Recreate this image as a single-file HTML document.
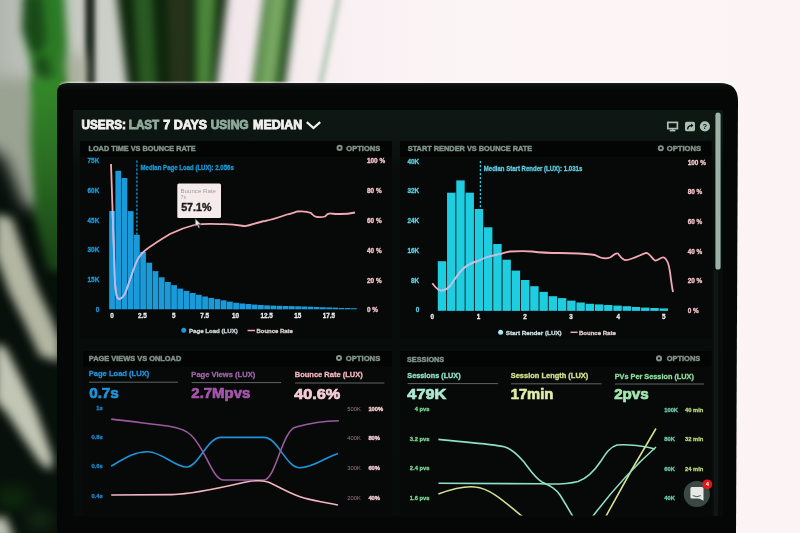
<!DOCTYPE html>
<html><head><meta charset="utf-8"><title>Dashboard</title>
<style>
html,body{margin:0;padding:0;}
body{width:800px;height:533px;overflow:hidden;position:relative;background:#fcf3f5;font-family:'Liberation Sans', Arial, sans-serif;}
</style></head><body>

<svg width="800" height="533" style="position:absolute;left:0;top:0">
<defs>
<linearGradient id="bgg" x1="0" x2="1" y1="0" y2="0">
 <stop offset="0" stop-color="#b2b7af"/><stop offset="0.03" stop-color="#bcc1b9"/><stop offset="0.12" stop-color="#c9cdc5"/>
 <stop offset="0.2" stop-color="#d4d7d0"/><stop offset="0.26" stop-color="#ece4e7"/><stop offset="0.3" stop-color="#f3e8eb"/><stop offset="0.45" stop-color="#f9f1f3"/><stop offset="0.6" stop-color="#fcf5f6"/><stop offset="1" stop-color="#fcf3f5"/>
</linearGradient>
<linearGradient id="lg1" x1="0" x2="0" y1="0" y2="1">
 <stop offset="0" stop-color="#348a2a"/><stop offset="0.45" stop-color="#2a6c22"/><stop offset="1" stop-color="#173f15"/>
</linearGradient>
<filter id="b4" x="-50%" y="-50%" width="200%" height="200%" color-interpolation-filters="sRGB"><feGaussianBlur stdDeviation="4"/></filter>
<filter id="b6" x="-50%" y="-50%" width="200%" height="200%" color-interpolation-filters="sRGB"><feGaussianBlur stdDeviation="7.5"/></filter>
<filter id="b5" x="-50%" y="-50%" width="200%" height="200%" color-interpolation-filters="sRGB"><feGaussianBlur stdDeviation="5"/></filter>
<filter id="b2" x="-50%" y="-50%" width="200%" height="200%" color-interpolation-filters="sRGB"><feGaussianBlur stdDeviation="2.5"/></filter>
</defs>
<rect width="800" height="533" fill="url(#bgg)"/>
<g filter="url(#b4)">
 <!-- leaf A -->
 <polygon points="25,-10 64,-10 67,40 70,100 34,100 30,60 22,30" fill="#2b7a24"/>
 <polygon points="23,-5 42,-5 46,40 40,55 30,50 22,30" fill="#184a17"/>
 <polygon points="34,58 48,56 52,80 46,95 36,90" fill="#1b4f19"/>
 <!-- leaves B -->
 <polygon points="116,-10 228,-10 216,90 128,90" fill="#0d250b"/>
 <polygon points="133,-10 152,-10 157,90 139,90" fill="#2a5a23"/>
 <polygon points="167,-10 190,-10 190,90 170,90" fill="#26331a"/>
 <polygon points="196,-10 217,-10 211,90 196,90" fill="#4a863a"/>
 <!-- leaf C -->
 <polygon points="265,-10 298,-10 284,90 252,90" fill="#2a6223"/>
 <polygon points="269,-10 289,-10 276,90 257,90" fill="#76a660"/>
 <polygon points="289,-10 298,-10 284,90 276,90" fill="#163f16"/>
</g>
<g filter="url(#b2)">
 <polygon points="85,-10 95,-10 95,90 85.5,90" fill="#222a22"/>
 <polygon points="337,-10 343,-10 322,90 316,90" fill="#bccfbf"/>

</g>
<g filter="url(#b6)">
 <!-- left lower dark base -->
 <polygon points="-20,140 5,158 25,205 90,215 90,560 -20,560" fill="#07100a"/>
 <!-- light bands -->
 <polygon points="-20,78 34,78 40,130 41,178 35,202 27,198 12,170 0,150 -20,140" fill="#9aa292"/>
 <ellipse cx="12" cy="498" rx="18" ry="10" fill="#0f2c0d"/>
 <polygon points="68,55 84,55 84,95 70,95" fill="#a4a892"/>
 <ellipse cx="40" cy="520" rx="12" ry="8" fill="#1a3218"/>
</g>
<g filter="url(#b4)">
 <polygon points="31,78 62,78 62,90 80,90 80,275 48,270 34,215 30,140" fill="url(#lg1)"/>
</g>
<g filter="url(#b5)">
 <polygon points="-5,214 12,218 26,258 38,290 52,320 60,340 60,362 40,356 24,322 9,292 -5,254" fill="#b2b6a2"/>
 <polygon points="-5,343 6,348 20,376 36,410 45,435 53,458 51,471 40,463 25,441 8,415 -5,400" fill="#c2c6b4"/>
 <polygon points="-20,519 6,517 15,540 -20,540" fill="#bcc0b0"/>
</g>
</svg>


<svg width="800" height="533" style="position:absolute;left:0;top:0">
<defs><linearGradient id="bz" x1="0" x2="0" y1="83" y2="90" gradientUnits="userSpaceOnUse"><stop offset="0" stop-color="#1e2222"/><stop offset="0.3" stop-color="#0b0f0e"/><stop offset="1" stop-color="#050706"/></linearGradient>
<filter id="glow" x="-5%" y="-5%" width="110%" height="110%" color-interpolation-filters="sRGB"><feGaussianBlur stdDeviation="1"/></filter></defs>
<path d="M60,85 Q62,82.2 70,82.2 L720,82.2 Q733,82.2 736,88 L736,90 L60,90 Z" fill="#ffffff" opacity="0.8" filter="url(#glow)"/>
<path d="M57,535 L57,93 Q57,83 67,83 L720,83 Q738,83 738,101 L736,535 Z" fill="url(#bz)"/>
</svg>
<div style="position:absolute;left:73px;top:110px;width:650px;height:406px;background:linear-gradient(to bottom,#0d1714 0px,#0c1512 30px,#080d0c 60px,#070b0a 100%)"></div>

<svg width="800" height="533" style="position:absolute;left:0;top:0;font-family:'Liberation Sans', Arial, sans-serif">
<defs><filter id="soft" x="0" y="0" width="100%" height="100%" color-interpolation-filters="sRGB"><feGaussianBlur stdDeviation="0.35"/></filter></defs>
<g filter="url(#soft)">
<rect x="80" y="141" width="312" height="198" fill="#060908"/>
<rect x="400" y="141" width="311.5" height="198" fill="#060908"/>
<rect x="83" y="351" width="309" height="166" fill="#060908"/>
<rect x="400" y="351" width="311.5" height="166" fill="#060908"/>
<rect x="80" y="141" width="312" height="15.5" fill="#030504"/>
<rect x="400" y="141" width="311.5" height="15.5" fill="#030504"/>
<rect x="83" y="351" width="309" height="15.5" fill="#030504"/>
<rect x="400" y="351" width="311.5" height="15.5" fill="#030504"/>
<text x="81.50" y="129.3" font-size="12.2" fill="#f2f0ee" stroke="#f2f0ee" stroke-width="0.85" font-weight="bold" textLength="44.45" lengthAdjust="spacingAndGlyphs">USERS:</text>
<text x="128.75" y="129.3" font-size="12.2" fill="#8fab9c" stroke="#8fab9c" stroke-width="0.85" font-weight="bold" textLength="30.50" lengthAdjust="spacingAndGlyphs">LAST</text>
<text x="163.25" y="129.3" font-size="12.2" fill="#f2f0ee" stroke="#f2f0ee" stroke-width="0.85" font-weight="bold" textLength="43.90" lengthAdjust="spacingAndGlyphs">7 DAYS</text>
<text x="210.65" y="129.3" font-size="12.2" fill="#8fab9c" stroke="#8fab9c" stroke-width="0.85" font-weight="bold" textLength="38.00" lengthAdjust="spacingAndGlyphs">USING</text>
<text x="253.05" y="129.3" font-size="12.2" fill="#f2f0ee" stroke="#f2f0ee" stroke-width="0.85" font-weight="bold" textLength="49.10" lengthAdjust="spacingAndGlyphs">MEDIAN</text>
<polyline points="306.8,122.2 313.5,128 320.2,122.2" fill="none" stroke="#f2f0ee" stroke-width="2.3"/>
<g fill="none" stroke="#a9c0b4" stroke-width="1.7"><rect x="667.8" y="122.4" width="9.6" height="6.2"/><line x1="672.6" y1="128.5" x2="672.6" y2="130.6"/><line x1="669.8" y1="130.6" x2="675.4" y2="130.6"/></g>
<rect x="685" y="121.8" width="10" height="9.4" rx="1.6" fill="#a9c0b4"/><path d="M687.6,129.4 Q687.8,125.6 691.6,125.6" stroke="#0b1111" stroke-width="1.4" fill="none"/><polygon points="691,123.6 693.4,125.6 691,127.6" fill="#0b1111"/>
<circle cx="704.9" cy="126.4" r="5.1" fill="#a9c0b4"/>
<text x="704.9" y="129.2" font-size="7.6" font-weight="bold" fill="#0b1111" text-anchor="middle">?</text>
<rect x="715.4" y="112.6" width="5.2" height="157" rx="2.6" fill="#9db3a8"/>
<rect x="713.5" y="270" width="4.5" height="246" fill="#0f1615"/>
<text x="88.45" y="150.6" font-size="7.5" fill="#80938a" stroke="#80938a" stroke-width="0.45" font-weight="bold" textLength="107.20" lengthAdjust="spacingAndGlyphs">LOAD TIME VS BOUNCE RATE</text>
<text x="407.75" y="150.8" font-size="7.5" fill="#80938a" stroke="#80938a" stroke-width="0.45" font-weight="bold" textLength="124.50" lengthAdjust="spacingAndGlyphs">START RENDER VS BOUNCE RATE</text>
<text x="88.75" y="360.8" font-size="7.5" fill="#80938a" stroke="#80938a" stroke-width="0.45" font-weight="bold" textLength="92.50" lengthAdjust="spacingAndGlyphs">PAGE VIEWS VS ONLOAD</text>
<text x="406.95" y="361.6" font-size="7.5" fill="#80938a" stroke="#80938a" stroke-width="0.45" font-weight="bold" textLength="37.30" lengthAdjust="spacingAndGlyphs">SESSIONS</text>
<circle cx="339.6" cy="147.9" r="2.1" fill="none" stroke="#80938a" stroke-width="1.9"/>
<text x="346.35" y="150.8" font-size="7.5" fill="#80938a" stroke="#80938a" stroke-width="0.45" font-weight="bold" textLength="33.90" lengthAdjust="spacingAndGlyphs">OPTIONS</text>
<circle cx="660.8" cy="148.2" r="2.1" fill="none" stroke="#80938a" stroke-width="1.9"/>
<text x="666.75" y="151.1" font-size="7.5" fill="#80938a" stroke="#80938a" stroke-width="0.45" font-weight="bold" textLength="34.30" lengthAdjust="spacingAndGlyphs">OPTIONS</text>
<circle cx="339" cy="358.1" r="2.1" fill="none" stroke="#80938a" stroke-width="1.9"/>
<text x="345.75" y="361" font-size="7.5" fill="#80938a" stroke="#80938a" stroke-width="0.45" font-weight="bold" textLength="34.50" lengthAdjust="spacingAndGlyphs">OPTIONS</text>
<circle cx="659" cy="358.40000000000003" r="2.1" fill="none" stroke="#80938a" stroke-width="1.9"/>
<text x="666.75" y="361.3" font-size="7.5" fill="#80938a" stroke="#80938a" stroke-width="0.45" font-weight="bold" textLength="33.50" lengthAdjust="spacingAndGlyphs">OPTIONS</text>
<g fill="#1a9ad8"><rect x="109.20" y="211.0" width="5.75" height="98.3"/><rect x="115.40" y="170.8" width="5.75" height="138.5"/><rect x="121.60" y="178.0" width="5.75" height="131.3"/><rect x="127.80" y="211.1" width="5.75" height="98.2"/><rect x="134.00" y="234.8" width="5.75" height="74.5"/><rect x="140.20" y="251.9" width="5.75" height="57.4"/><rect x="146.40" y="262.7" width="5.75" height="46.6"/><rect x="152.60" y="271.1" width="5.75" height="38.2"/><rect x="158.80" y="277.3" width="5.75" height="32.0"/><rect x="165.00" y="282.0" width="5.75" height="27.3"/><rect x="171.20" y="285.1" width="5.75" height="24.2"/><rect x="177.40" y="288.6" width="5.75" height="20.7"/><rect x="183.60" y="290.9" width="5.75" height="18.4"/><rect x="189.80" y="293.0" width="5.75" height="16.3"/><rect x="196.00" y="294.8" width="5.75" height="14.5"/><rect x="202.20" y="296.5" width="5.75" height="12.8"/><rect x="208.40" y="297.9" width="5.75" height="11.4"/><rect x="214.60" y="299.1" width="5.75" height="10.2"/><rect x="220.80" y="300.3" width="5.75" height="9.0"/><rect x="227.00" y="301.6" width="5.75" height="7.7"/><rect x="233.20" y="302.8" width="5.75" height="6.6"/><rect x="239.40" y="303.5" width="5.75" height="5.8"/><rect x="245.60" y="304.0" width="5.75" height="5.3"/><rect x="251.80" y="304.6" width="5.75" height="4.7"/><rect x="258.00" y="305.0" width="5.75" height="4.3"/><rect x="264.20" y="305.4" width="5.75" height="3.9"/><rect x="270.40" y="305.6" width="5.75" height="3.7"/><rect x="276.60" y="305.8" width="5.75" height="3.6"/><rect x="282.80" y="306.0" width="5.75" height="3.3"/><rect x="289.00" y="306.1" width="5.75" height="3.2"/><rect x="295.20" y="306.3" width="5.75" height="3.0"/><rect x="301.40" y="306.5" width="5.75" height="2.8"/><rect x="307.60" y="306.7" width="5.75" height="2.6"/><rect x="313.80" y="307.0" width="5.75" height="2.3"/><rect x="320.00" y="307.2" width="5.75" height="2.1"/><rect x="326.20" y="307.4" width="5.75" height="1.9"/><rect x="332.40" y="307.6" width="5.75" height="1.7"/><rect x="338.60" y="308.0" width="5.75" height="1.3"/><rect x="344.80" y="308.0" width="5.75" height="1.3"/><rect x="351.00" y="308.2" width="5.75" height="1.1"/></g>
<line x1="136.9" y1="160.5" x2="136.9" y2="235" stroke="#1a9ad8" stroke-width="1.3" stroke-dasharray="2.2,1.8"/>
<text x="140.55" y="169.7" font-size="6.8" fill="#1a9ad8" stroke="#1a9ad8" stroke-width="0.3" font-weight="bold" textLength="93.20" lengthAdjust="spacingAndGlyphs">Median Page Load (LUX): 2.056s</text>
<text x="99.3" y="162.6" font-size="6.4" fill="#1a9ad8" stroke="#1a9ad8" stroke-width="0.3" font-weight="bold" text-anchor="end">75K</text>
<text x="99.3" y="193" font-size="6.4" fill="#1a9ad8" stroke="#1a9ad8" stroke-width="0.3" font-weight="bold" text-anchor="end">60K</text>
<text x="99.3" y="222.8" font-size="6.4" fill="#1a9ad8" stroke="#1a9ad8" stroke-width="0.3" font-weight="bold" text-anchor="end">45K</text>
<text x="99.3" y="252" font-size="6.4" fill="#1a9ad8" stroke="#1a9ad8" stroke-width="0.3" font-weight="bold" text-anchor="end">30K</text>
<text x="99.3" y="282" font-size="6.4" fill="#1a9ad8" stroke="#1a9ad8" stroke-width="0.3" font-weight="bold" text-anchor="end">15K</text>
<text x="99.3" y="311.5" font-size="6.4" fill="#1a9ad8" stroke="#1a9ad8" stroke-width="0.3" font-weight="bold" text-anchor="end">0</text>
<text x="367" y="163.3" font-size="6.4" fill="#f3c3ca" stroke="#f3c3ca" stroke-width="0.3" font-weight="bold" text-anchor="start">100 %</text>
<text x="367" y="193.1" font-size="6.4" fill="#f3c3ca" stroke="#f3c3ca" stroke-width="0.3" font-weight="bold" text-anchor="start">80 %</text>
<text x="367" y="222.8" font-size="6.4" fill="#f3c3ca" stroke="#f3c3ca" stroke-width="0.3" font-weight="bold" text-anchor="start">60 %</text>
<text x="367" y="252.7" font-size="6.4" fill="#f3c3ca" stroke="#f3c3ca" stroke-width="0.3" font-weight="bold" text-anchor="start">40 %</text>
<text x="367" y="282.6" font-size="6.4" fill="#f3c3ca" stroke="#f3c3ca" stroke-width="0.3" font-weight="bold" text-anchor="start">20 %</text>
<text x="367" y="312.2" font-size="6.4" fill="#f3c3ca" stroke="#f3c3ca" stroke-width="0.3" font-weight="bold" text-anchor="start">0 %</text>
<text x="112" y="318.2" font-size="6.3" fill="#e8ecea" stroke="#e8ecea" stroke-width="0.3" font-weight="bold" text-anchor="middle">0</text>
<text x="142.5" y="318.2" font-size="6.3" fill="#e8ecea" stroke="#e8ecea" stroke-width="0.3" font-weight="bold" text-anchor="middle">2.5</text>
<text x="173.75" y="318.2" font-size="6.3" fill="#e8ecea" stroke="#e8ecea" stroke-width="0.3" font-weight="bold" text-anchor="middle">5</text>
<text x="204.75" y="318.2" font-size="6.3" fill="#e8ecea" stroke="#e8ecea" stroke-width="0.3" font-weight="bold" text-anchor="middle">7.5</text>
<text x="235.6" y="318.2" font-size="6.3" fill="#e8ecea" stroke="#e8ecea" stroke-width="0.3" font-weight="bold" text-anchor="middle">10</text>
<text x="266.6" y="318.2" font-size="6.3" fill="#e8ecea" stroke="#e8ecea" stroke-width="0.3" font-weight="bold" text-anchor="middle">12.5</text>
<text x="297.7" y="318.2" font-size="6.3" fill="#e8ecea" stroke="#e8ecea" stroke-width="0.3" font-weight="bold" text-anchor="middle">15</text>
<text x="329" y="318.2" font-size="6.3" fill="#e8ecea" stroke="#e8ecea" stroke-width="0.3" font-weight="bold" text-anchor="middle">17.5</text>
<clipPath id="bc1"><rect x="109.20" y="211.0" width="5.75" height="98.3"/><rect x="115.40" y="170.8" width="5.75" height="138.5"/><rect x="121.60" y="178.0" width="5.75" height="131.3"/><rect x="127.80" y="211.1" width="5.75" height="98.2"/><rect x="134.00" y="234.8" width="5.75" height="74.5"/><rect x="140.20" y="251.9" width="5.75" height="57.4"/><rect x="146.40" y="262.7" width="5.75" height="46.6"/><rect x="152.60" y="271.1" width="5.75" height="38.2"/><rect x="158.80" y="277.3" width="5.75" height="32.0"/><rect x="165.00" y="282.0" width="5.75" height="27.3"/><rect x="171.20" y="285.1" width="5.75" height="24.2"/><rect x="177.40" y="288.6" width="5.75" height="20.7"/><rect x="183.60" y="290.9" width="5.75" height="18.4"/><rect x="189.80" y="293.0" width="5.75" height="16.3"/><rect x="196.00" y="294.8" width="5.75" height="14.5"/><rect x="202.20" y="296.5" width="5.75" height="12.8"/><rect x="208.40" y="297.9" width="5.75" height="11.4"/><rect x="214.60" y="299.1" width="5.75" height="10.2"/><rect x="220.80" y="300.3" width="5.75" height="9.0"/><rect x="227.00" y="301.6" width="5.75" height="7.7"/><rect x="233.20" y="302.8" width="5.75" height="6.6"/><rect x="239.40" y="303.5" width="5.75" height="5.8"/><rect x="245.60" y="304.0" width="5.75" height="5.3"/><rect x="251.80" y="304.6" width="5.75" height="4.7"/><rect x="258.00" y="305.0" width="5.75" height="4.3"/><rect x="264.20" y="305.4" width="5.75" height="3.9"/><rect x="270.40" y="305.6" width="5.75" height="3.7"/><rect x="276.60" y="305.8" width="5.75" height="3.6"/><rect x="282.80" y="306.0" width="5.75" height="3.3"/><rect x="289.00" y="306.1" width="5.75" height="3.2"/><rect x="295.20" y="306.3" width="5.75" height="3.0"/><rect x="301.40" y="306.5" width="5.75" height="2.8"/><rect x="307.60" y="306.7" width="5.75" height="2.6"/><rect x="313.80" y="307.0" width="5.75" height="2.3"/><rect x="320.00" y="307.2" width="5.75" height="2.1"/><rect x="326.20" y="307.4" width="5.75" height="1.9"/><rect x="332.40" y="307.6" width="5.75" height="1.7"/><rect x="338.60" y="308.0" width="5.75" height="1.3"/><rect x="344.80" y="308.0" width="5.75" height="1.3"/><rect x="351.00" y="308.2" width="5.75" height="1.1"/></clipPath>
<path d="M111,164 C112,190 113.5,240 115,283 C116,296 117,299 119,299 C121,299 123,297 125,294 C128,286 132,273 136,263 C139,256 141,253.5 145,250.5 C152,245 160,240 170,234 C180,229 188,226.5 196,224.5 C205,223.5 215,224 225,224.2 C235,224.4 240,225.5 245,226.2 C252,225 258,222 265,221 C273,219.5 280,217 287,214.5 C292,213 294,213 297,211.5 C303,211 308,211.5 311,213 C313,215 314,217 317,217 C320,217 322,217.5 325,216.5 C327,214 328,213 331,213.5 C340,214.5 348,214 355,212.5" fill="none" stroke="#f2a9b4" stroke-width="1.8"/>
<path d="M111,164 C112,190 113.5,240 115,283 C116,296 117,299 119,299 C121,299 123,297 125,294 C128,286 132,273 136,263 C139,256 141,253.5 145,250.5 C152,245 160,240 170,234 C180,229 188,226.5 196,224.5 C205,223.5 215,224 225,224.2 C235,224.4 240,225.5 245,226.2 C252,225 258,222 265,221 C273,219.5 280,217 287,214.5 C292,213 294,213 297,211.5 C303,211 308,211.5 311,213 C313,215 314,217 317,217 C320,217 322,217.5 325,216.5 C327,214 328,213 331,213.5 C340,214.5 348,214 355,212.5" fill="none" stroke="#b4bcf2" stroke-width="1.8" clip-path="url(#bc1)"/>
<rect x="177.3" y="183.6" width="43.7" height="34.4" rx="1.5" fill="#f6ebeb"/>
<text x="180.55" y="193" font-size="5.8" fill="#a09c9c" font-weight="normal" textLength="35.40" lengthAdjust="spacingAndGlyphs">Bounce Rate</text>
<text x="180.55" y="199.3" font-size="5.8" fill="#a09c9c" font-weight="normal" textLength="5.60" lengthAdjust="spacingAndGlyphs">7s</text>
<text x="181.15" y="211.2" font-size="10.2" fill="#1d1d1d" stroke="#1d1d1d" stroke-width="0.4" font-weight="bold" textLength="30.30" lengthAdjust="spacingAndGlyphs">57.1%</text>
<path d="M195.2,218.6 L195.2,226.6 L197.1,224.9 L198.6,228.2 L199.9,227.6 L198.4,224.5 L200.9,224.3 Z" fill="#ece6e6" stroke="#2a2a2a" stroke-width="0.6"/>
<circle cx="183.75" cy="330.3" r="2.5" fill="#1a9ad8"/>
<text x="189.00" y="333" font-size="6.2" fill="#cfd8dc" stroke="#cfd8dc" stroke-width="0.3" font-weight="bold" textLength="48.75" lengthAdjust="spacingAndGlyphs">Page Load (LUX)</text>
<line x1="247.5" y1="330.5" x2="255" y2="330.5" stroke="#f2a9b4" stroke-width="1.5"/>
<text x="256.50" y="333" font-size="6.2" fill="#dccbce" stroke="#dccbce" stroke-width="0.3" font-weight="bold" textLength="36.25" lengthAdjust="spacingAndGlyphs">Bounce Rate</text>
<g fill="#1fcde0"><rect x="437.80" y="261.2" width="8.4" height="49.6"/><rect x="447.04" y="192.7" width="8.4" height="118.2"/><rect x="456.28" y="180.4" width="8.4" height="130.5"/><rect x="465.52" y="192.7" width="8.4" height="118.2"/><rect x="474.76" y="209.0" width="8.4" height="101.9"/><rect x="484.00" y="227.3" width="8.4" height="83.6"/><rect x="493.24" y="244.0" width="8.4" height="66.9"/><rect x="502.48" y="259.7" width="8.4" height="51.2"/><rect x="511.72" y="270.6" width="8.4" height="40.3"/><rect x="520.96" y="280.0" width="8.4" height="30.9"/><rect x="530.20" y="286.2" width="8.4" height="24.6"/><rect x="539.44" y="291.9" width="8.4" height="19.0"/><rect x="548.68" y="296.2" width="8.4" height="14.6"/><rect x="557.92" y="298.1" width="8.4" height="12.8"/><rect x="567.16" y="300.6" width="8.4" height="10.3"/><rect x="576.40" y="302.5" width="8.4" height="8.4"/><rect x="585.64" y="303.8" width="8.4" height="7.1"/><rect x="594.88" y="304.4" width="8.4" height="6.5"/><rect x="604.12" y="305.0" width="8.4" height="5.9"/><rect x="613.36" y="305.6" width="8.4" height="5.3"/><rect x="622.60" y="306.2" width="8.4" height="4.6"/><rect x="631.84" y="307.0" width="8.4" height="3.9"/><rect x="641.08" y="307.6" width="8.4" height="3.3"/><rect x="650.32" y="308.0" width="8.4" height="2.9"/><rect x="659.56" y="308.4" width="8.4" height="2.5"/></g>
<line x1="480.4" y1="161" x2="480.4" y2="209" stroke="#1fcde0" stroke-width="1.3" stroke-dasharray="2.2,1.8"/>
<text x="483.75" y="170.8" font-size="6.8" fill="#5fcfe2" stroke="#5fcfe2" stroke-width="0.3" font-weight="bold" textLength="98.50" lengthAdjust="spacingAndGlyphs">Median Start Render (LUX): 1.031s</text>
<text x="419.2" y="163.6" font-size="6.4" fill="#5ccfe0" stroke="#5ccfe0" stroke-width="0.3" font-weight="bold" text-anchor="end">40K</text>
<text x="419.2" y="193" font-size="6.4" fill="#5ccfe0" stroke="#5ccfe0" stroke-width="0.3" font-weight="bold" text-anchor="end">32K</text>
<text x="419.2" y="223.2" font-size="6.4" fill="#5ccfe0" stroke="#5ccfe0" stroke-width="0.3" font-weight="bold" text-anchor="end">24K</text>
<text x="419.2" y="252.6" font-size="6.4" fill="#5ccfe0" stroke="#5ccfe0" stroke-width="0.3" font-weight="bold" text-anchor="end">16K</text>
<text x="419.2" y="282.6" font-size="6.4" fill="#5ccfe0" stroke="#5ccfe0" stroke-width="0.3" font-weight="bold" text-anchor="end">8K</text>
<text x="419.2" y="312.2" font-size="6.4" fill="#5ccfe0" stroke="#5ccfe0" stroke-width="0.3" font-weight="bold" text-anchor="end">0</text>
<text x="687.7" y="164.5" font-size="6.4" fill="#f3c3ca" stroke="#f3c3ca" stroke-width="0.3" font-weight="bold" text-anchor="start">100 %</text>
<text x="687.7" y="194.2" font-size="6.4" fill="#f3c3ca" stroke="#f3c3ca" stroke-width="0.3" font-weight="bold" text-anchor="start">80 %</text>
<text x="687.7" y="224.2" font-size="6.4" fill="#f3c3ca" stroke="#f3c3ca" stroke-width="0.3" font-weight="bold" text-anchor="start">60 %</text>
<text x="687.7" y="253.7" font-size="6.4" fill="#f3c3ca" stroke="#f3c3ca" stroke-width="0.3" font-weight="bold" text-anchor="start">40 %</text>
<text x="687.7" y="283.2" font-size="6.4" fill="#f3c3ca" stroke="#f3c3ca" stroke-width="0.3" font-weight="bold" text-anchor="start">20 %</text>
<text x="687.7" y="313.2" font-size="6.4" fill="#f3c3ca" stroke="#f3c3ca" stroke-width="0.3" font-weight="bold" text-anchor="start">0 %</text>
<text x="432.3" y="319.4" font-size="6.3" fill="#e8ecea" stroke="#e8ecea" stroke-width="0.3" font-weight="bold" text-anchor="middle">0</text>
<text x="478.5" y="319.4" font-size="6.3" fill="#e8ecea" stroke="#e8ecea" stroke-width="0.3" font-weight="bold" text-anchor="middle">1</text>
<text x="525" y="319.4" font-size="6.3" fill="#e8ecea" stroke="#e8ecea" stroke-width="0.3" font-weight="bold" text-anchor="middle">2</text>
<text x="571" y="319.4" font-size="6.3" fill="#e8ecea" stroke="#e8ecea" stroke-width="0.3" font-weight="bold" text-anchor="middle">3</text>
<text x="618.2" y="319.4" font-size="6.3" fill="#e8ecea" stroke="#e8ecea" stroke-width="0.3" font-weight="bold" text-anchor="middle">4</text>
<text x="663.7" y="319.4" font-size="6.3" fill="#e8ecea" stroke="#e8ecea" stroke-width="0.3" font-weight="bold" text-anchor="middle">5</text>
<clipPath id="bc2"><rect x="437.80" y="261.2" width="8.4" height="49.6"/><rect x="447.04" y="192.7" width="8.4" height="118.2"/><rect x="456.28" y="180.4" width="8.4" height="130.5"/><rect x="465.52" y="192.7" width="8.4" height="118.2"/><rect x="474.76" y="209.0" width="8.4" height="101.9"/><rect x="484.00" y="227.3" width="8.4" height="83.6"/><rect x="493.24" y="244.0" width="8.4" height="66.9"/><rect x="502.48" y="259.7" width="8.4" height="51.2"/><rect x="511.72" y="270.6" width="8.4" height="40.3"/><rect x="520.96" y="280.0" width="8.4" height="30.9"/><rect x="530.20" y="286.2" width="8.4" height="24.6"/><rect x="539.44" y="291.9" width="8.4" height="19.0"/><rect x="548.68" y="296.2" width="8.4" height="14.6"/><rect x="557.92" y="298.1" width="8.4" height="12.8"/><rect x="567.16" y="300.6" width="8.4" height="10.3"/><rect x="576.40" y="302.5" width="8.4" height="8.4"/><rect x="585.64" y="303.8" width="8.4" height="7.1"/><rect x="594.88" y="304.4" width="8.4" height="6.5"/><rect x="604.12" y="305.0" width="8.4" height="5.9"/><rect x="613.36" y="305.6" width="8.4" height="5.3"/><rect x="622.60" y="306.2" width="8.4" height="4.6"/><rect x="631.84" y="307.0" width="8.4" height="3.9"/><rect x="641.08" y="307.6" width="8.4" height="3.3"/><rect x="650.32" y="308.0" width="8.4" height="2.9"/><rect x="659.56" y="308.4" width="8.4" height="2.5"/></clipPath>
<path d="M432.3,283.3 C435,287 438,290.6 441.3,290.6 C445,290.6 447,289 450,286 C454,281 458,273 464,268 C469,264 473,262 478,261 C482,259.5 484,258 487,257 C493,255.5 498,254.5 502,253.5 C505,252.5 507,251.8 510,251.5 C518,251 526,250.8 532,251.5 C540,252.5 548,253 560,253 C575,253.5 588,253.5 595,255 C600,258 606,259 610,257.5 C613,256 615,252.5 618,253.5 C620,256 622,260 626,260.2 C632,259.5 640,255 646,252.8 C650,253 652,259 655,260.5 C658,261 661,256.5 664,257.5 C667,259 669,265 670,272 C671,280 672,287 673,292" fill="none" stroke="#f2a9b4" stroke-width="1.8"/>
<path d="M432.3,283.3 C435,287 438,290.6 441.3,290.6 C445,290.6 447,289 450,286 C454,281 458,273 464,268 C469,264 473,262 478,261 C482,259.5 484,258 487,257 C493,255.5 498,254.5 502,253.5 C505,252.5 507,251.8 510,251.5 C518,251 526,250.8 532,251.5 C540,252.5 548,253 560,253 C575,253.5 588,253.5 595,255 C600,258 606,259 610,257.5 C613,256 615,252.5 618,253.5 C620,256 622,260 626,260.2 C632,259.5 640,255 646,252.8 C650,253 652,259 655,260.5 C658,261 661,256.5 664,257.5 C667,259 669,265 670,272 C671,280 672,287 673,292" fill="none" stroke="#aac6f0" stroke-width="1.8" clip-path="url(#bc2)"/>
<circle cx="500.6" cy="332.3" r="2.5" fill="#a6e6ef"/>
<text x="505.75" y="334.5" font-size="6.2" fill="#cfdfe2" stroke="#cfdfe2" stroke-width="0.3" font-weight="bold" textLength="55.90" lengthAdjust="spacingAndGlyphs">Start Render (LUX)</text>
<line x1="570.5" y1="332.3" x2="577.6" y2="332.3" stroke="#f2a9b4" stroke-width="1.5"/>
<text x="578.95" y="334.5" font-size="6.2" fill="#dccbce" stroke="#dccbce" stroke-width="0.3" font-weight="bold" textLength="36.90" lengthAdjust="spacingAndGlyphs">Bounce Rate</text>
<text x="88.75" y="376.2" font-size="7.3" fill="#1e94da" stroke="#1e94da" stroke-width="0.3" font-weight="bold" textLength="60.50" lengthAdjust="spacingAndGlyphs">Page Load (LUX)</text>
<text x="191.35" y="376.6" font-size="7.3" fill="#9c64a4" stroke="#9c64a4" stroke-width="0.3" font-weight="bold" textLength="63.90" lengthAdjust="spacingAndGlyphs">Page Views (LUX)</text>
<text x="294.75" y="377.2" font-size="7.3" fill="#f2b4c2" stroke="#f2b4c2" stroke-width="0.3" font-weight="bold" textLength="67.90" lengthAdjust="spacingAndGlyphs">Bounce Rate (LUX)</text>
<line x1="89" y1="382.2" x2="178" y2="382.2" stroke="#5f6663" stroke-width="1"/>
<line x1="191.6" y1="382.6" x2="281" y2="382.6" stroke="#5f6663" stroke-width="1"/>
<line x1="295" y1="383" x2="384.4" y2="383" stroke="#5f6663" stroke-width="1"/>
<text x="89.15" y="397.5" font-size="14.3" fill="#1e94da" stroke="#1e94da" stroke-width="0.7" font-weight="bold" textLength="29.70" lengthAdjust="spacingAndGlyphs">0.7s</text>
<text x="191.35" y="398" font-size="14.3" fill="#a655ae" stroke="#a655ae" stroke-width="0.7" font-weight="bold" textLength="58.90" lengthAdjust="spacingAndGlyphs">2.7Mpvs</text>
<text x="294.15" y="398.6" font-size="14.3" fill="#f6cdd7" stroke="#f6cdd7" stroke-width="0.7" font-weight="bold" textLength="46.10" lengthAdjust="spacingAndGlyphs">40.6%</text>
<text x="102.7" y="409.9" font-size="5.8" fill="#1a88cc" stroke="#1a88cc" stroke-width="0.3" font-weight="bold" text-anchor="end">1s</text>
<text x="102.7" y="438.8" font-size="5.8" fill="#1a88cc" stroke="#1a88cc" stroke-width="0.3" font-weight="bold" text-anchor="end">0.8s</text>
<text x="102.7" y="468" font-size="5.8" fill="#1a88cc" stroke="#1a88cc" stroke-width="0.3" font-weight="bold" text-anchor="end">0.6s</text>
<text x="102.7" y="497.6" font-size="5.8" fill="#1a88cc" stroke="#1a88cc" stroke-width="0.3" font-weight="bold" text-anchor="end">0.4s</text>
<text x="347.3" y="410.9" font-size="5.8" fill="#9a7898" font-weight="normal" text-anchor="start">500K</text>
<text x="347.3" y="440.4" font-size="5.8" fill="#9a7898" font-weight="normal" text-anchor="start">400K</text>
<text x="347.3" y="470" font-size="5.8" fill="#9a7898" font-weight="normal" text-anchor="start">300K</text>
<text x="347.3" y="499.5" font-size="5.8" fill="#9a7898" font-weight="normal" text-anchor="start">200K</text>
<text x="368.4" y="410.9" font-size="5.8" fill="#f4d0d6" stroke="#f4d0d6" stroke-width="0.3" font-weight="bold" text-anchor="start">100%</text>
<text x="368.4" y="440.4" font-size="5.8" fill="#f4d0d6" stroke="#f4d0d6" stroke-width="0.3" font-weight="bold" text-anchor="start">80%</text>
<text x="368.4" y="470" font-size="5.8" fill="#f4d0d6" stroke="#f4d0d6" stroke-width="0.3" font-weight="bold" text-anchor="start">60%</text>
<text x="368.4" y="499.5" font-size="5.8" fill="#f4d0d6" stroke="#f4d0d6" stroke-width="0.3" font-weight="bold" text-anchor="start">40%</text>
<path d="M111.2,466.2 C125,458 135,451.5 148,451.8 C162,452 176,468 187,467 C199,466 207,437.5 221,437.4 L264,437.4 C278,437.5 286,468 300,467.8 C314,467.5 326,457 338,453.4" fill="none" stroke="#1e94da" stroke-width="1.6"/>
<path d="M111.2,419.1 C130,421 150,424 168,426 C178,427.5 185,429.5 191,435 C206,449 212,480 224,480 L264,480 C276,479 282,430 296,427 C310,423 325,421 338.9,420.7" fill="none" stroke="#9c5a9e" stroke-width="1.6"/>
<path d="M111.2,495 L172,494.6 C195,494 222,487.5 245,482.2 C252,480.6 262,480.4 268,482 C280,487 290,494 304,498 C315,501 328,503 338,505" fill="none" stroke="#f2b4c2" stroke-width="1.6"/>
<text x="407.35" y="378" font-size="7.3" fill="#8ee0c2" stroke="#8ee0c2" stroke-width="0.3" font-weight="bold" textLength="53.30" lengthAdjust="spacingAndGlyphs">Sessions (LUX)</text>
<text x="510.75" y="378.3" font-size="7.3" fill="#d4e08e" stroke="#d4e08e" stroke-width="0.3" font-weight="bold" textLength="77.50" lengthAdjust="spacingAndGlyphs">Session Length (LUX)</text>
<text x="614.75" y="378.6" font-size="7.3" fill="#8edc9c" stroke="#8edc9c" stroke-width="0.3" font-weight="bold" textLength="79.10" lengthAdjust="spacingAndGlyphs">PVs Per Session (LUX)</text>
<line x1="407.6" y1="383.6" x2="498" y2="383.6" stroke="#5f6663" stroke-width="1"/>
<line x1="511" y1="383.8" x2="601.6" y2="383.8" stroke="#5f6663" stroke-width="1"/>
<line x1="615" y1="384" x2="704" y2="384" stroke="#5f6663" stroke-width="1"/>
<text x="407.35" y="399" font-size="14.3" fill="#ade9d3" stroke="#ade9d3" stroke-width="0.7" font-weight="bold" textLength="38.90" lengthAdjust="spacingAndGlyphs">479K</text>
<text x="510.75" y="399.2" font-size="14.3" fill="#e2eba8" stroke="#e2eba8" stroke-width="0.7" font-weight="bold" textLength="42.50" lengthAdjust="spacingAndGlyphs">17min</text>
<text x="614.15" y="399.4" font-size="14.3" fill="#a4e6b0" stroke="#a4e6b0" stroke-width="0.7" font-weight="bold" textLength="34.50" lengthAdjust="spacingAndGlyphs">2pvs</text>
<text x="429.5" y="411.3" font-size="5.8" fill="#7cd890" stroke="#7cd890" stroke-width="0.3" font-weight="bold" text-anchor="end">4 pvs</text>
<text x="429.5" y="440.8" font-size="5.8" fill="#7cd890" stroke="#7cd890" stroke-width="0.3" font-weight="bold" text-anchor="end">3.2 pvs</text>
<text x="429.5" y="470.3" font-size="5.8" fill="#7cd890" stroke="#7cd890" stroke-width="0.3" font-weight="bold" text-anchor="end">2.4 pvs</text>
<text x="429.5" y="499.8" font-size="5.8" fill="#7cd890" stroke="#7cd890" stroke-width="0.3" font-weight="bold" text-anchor="end">1.6 pvs</text>
<text x="664.2" y="411.5" font-size="5.8" fill="#6cc8b0" stroke="#6cc8b0" stroke-width="0.3" font-weight="bold" text-anchor="start">100K</text>
<text x="664.2" y="441.4" font-size="5.8" fill="#6cc8b0" stroke="#6cc8b0" stroke-width="0.3" font-weight="bold" text-anchor="start">80K</text>
<text x="664.2" y="471" font-size="5.8" fill="#6cc8b0" stroke="#6cc8b0" stroke-width="0.3" font-weight="bold" text-anchor="start">60K</text>
<text x="664.2" y="500" font-size="5.8" fill="#6cc8b0" stroke="#6cc8b0" stroke-width="0.3" font-weight="bold" text-anchor="start">40K</text>
<text x="685" y="411.5" font-size="5.8" fill="#b8d47a" stroke="#b8d47a" stroke-width="0.3" font-weight="bold" text-anchor="start">40 min</text>
<text x="685" y="441.4" font-size="5.8" fill="#b8d47a" stroke="#b8d47a" stroke-width="0.3" font-weight="bold" text-anchor="start">32 min</text>
<text x="685" y="471" font-size="5.8" fill="#b8d47a" stroke="#b8d47a" stroke-width="0.3" font-weight="bold" text-anchor="start">24 min</text>
<clipPath id="cp4"><rect x="430" y="400" width="240" height="115.5"/></clipPath>
<g clip-path="url(#cp4)" fill="none" stroke-width="1.6">
<path d="M438.4,439.4 C460,442 490,443.5 505,447 C512,449 518,455 524,462 C530,470 535,478 542,482 C550,486 555,488 560,495 C565,503 569,510 575,520" stroke="#8ee0c2"/>
<path d="M438.4,483.3 L540,483.8 C556,484.5 568,484 578,481.5 C588,478 595,470 601,461 C606,453 610,447 617,445 C628,444 645,446 655,449" stroke="#8ee0c2"/>
<path d="M438.4,494 C452,489 465,486 475,487 C490,488 505,502 524,518" stroke="#d4e08e"/>
<path d="M604,520 C620,490 640,455 656,428.5" stroke="#d4e08e"/>
<path d="M590,520 C605,500 630,470 656,447" stroke="#8ee0c2"/>
</g>
<circle cx="696.8" cy="494" r="13.1" fill="#3a4843"/>
<path d="M690.4,488.4 q0,-1.5 1.5,-1.5 h10.1 q1.5,0 1.5,1.5 v12.4 l-3.2,-1.8 q-1.2,-0.5 -2.6,-0.5 h-5.8 q-1.5,0 -1.5,-1.5 z" fill="#e6e9e7"/>
<path d="M692.8,495.6 q4,2.2 8,0" stroke="#3a4843" stroke-width="0.9" fill="none"/>
<circle cx="707.3" cy="484.3" r="4.9" fill="#e2161c"/>
<text x="707.3" y="486.4" font-size="5.8" font-weight="bold" fill="#ffffff" text-anchor="middle">4</text>
</g>
</svg>
</body></html>
